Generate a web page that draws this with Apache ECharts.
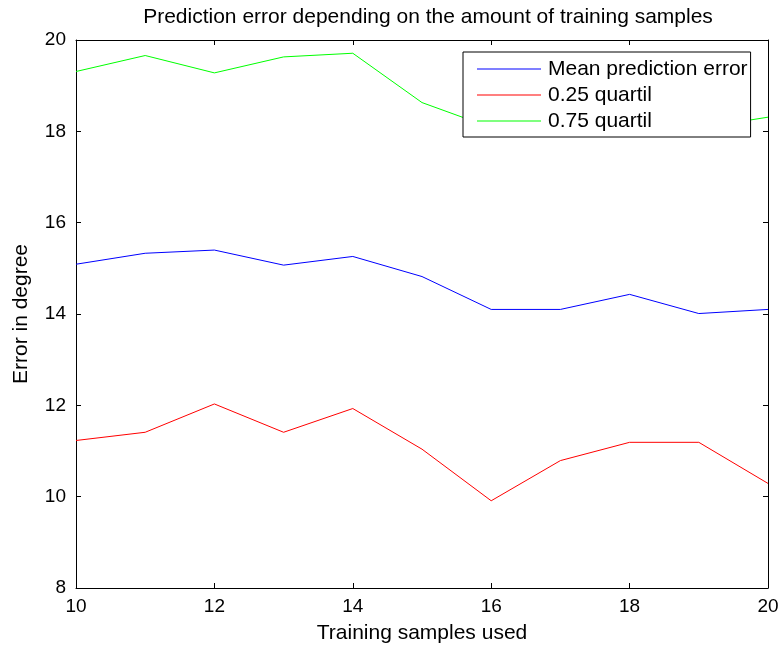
<!DOCTYPE html>
<html>
<head>
<meta charset="utf-8">
<script src="https://cdn.jsdelivr.net/npm/echarts@6/dist/echarts.min.js"></script>
<style>
  html, body { margin: 0; padding: 0; background: #fff; }
  #chart { width: 781px; height: 645px; }
</style>
</head>
<body>
<div id="chart"></div>
<script>
// Number of training samples used
const samples = [10, 11, 12, 13, 14, 15, 16, 17, 18, 19, 20];
// Prediction error statistics (degrees)
const meanError = [15.09, 15.33, 15.40, 15.07, 15.26, 14.82, 14.10, 14.10, 14.43, 14.01, 14.10];
const quartile25 = [11.23, 11.41, 12.03, 11.41, 11.93, 11.04, 9.91, 10.79, 11.19, 11.19, 10.29];
const quartile75 = [19.31, 19.66, 19.28, 19.63, 19.71, 18.63, 18.08, 18.15, 18.25, 18.07, 18.31];
const seriesNames = ['Mean prediction error', '0.25 quartil', '0.75 quartil'];
const seriesColors = ['#0000ff', '#ff0000', '#00ff00'];

const FONT = 'Liberation Sans, Arial, sans-serif';
const pairs = v => samples.map((s, i) => [s, v[i]]);

const chart = echarts.init(document.getElementById('chart'), null, { renderer: 'canvas' });

// Closed box: every side carries inward ticks
const boxAxis = {
  axisLine: { show: true, lineStyle: { color: '#000', width: 1 } },
  axisTick: { show: true, inside: true, length: 5, lineStyle: { color: '#000', width: 1 } },
  splitLine: { show: false }
};

chart.setOption({
  animation: false,
  backgroundColor: '#fff',
  title: {
    text: 'Prediction error depending on the amount of training samples',
    left: 423, top: 2, textAlign: 'center',
    textStyle: { fontFamily: FONT, fontSize: 21, fontWeight: 'normal', color: '#000' }
  },
  grid: { left: 76, right: 13, top: 40, bottom: 57, outerBoundsMode: 'none', containLabel: false },
  legend: {
    data: seriesNames,
    icon: 'rect',
    orient: 'vertical',
    left: 463, top: 52,
    padding: [4, 3, 3, 14],
    itemWidth: 64, itemHeight: 1, itemGap: 0,
    backgroundColor: '#fff',
    borderColor: '#000', borderWidth: 1,
    textStyle: { fontFamily: FONT, fontSize: 21, color: '#000', lineHeight: 26, padding: [0, 0, 0, 2] }
  },
  xAxis: [
    Object.assign({
      type: 'value', min: 10, max: 20, interval: 2,
      name: 'Training samples used', nameLocation: 'middle', nameGap: 35,
      nameTextStyle: { fontFamily: FONT, fontSize: 21, color: '#000' },
      axisLabel: { fontFamily: FONT, fontSize: 19, color: '#000', margin: 9 }
    }, boxAxis),
    Object.assign({
      type: 'value', min: 10, max: 20, interval: 2, position: 'top',
      axisLabel: { show: false }
    }, boxAxis)
  ],
  yAxis: [
    Object.assign({
      type: 'value', min: 8, max: 20, interval: 2,
      name: 'Error in degree', nameLocation: 'middle', nameGap: 44,
      nameTextStyle: { fontFamily: FONT, fontSize: 21, color: '#000' },
      axisLabel: { fontFamily: FONT, fontSize: 19, color: '#000', margin: 10 }
    }, boxAxis),
    Object.assign({
      type: 'value', min: 8, max: 20, interval: 2, position: 'right',
      axisLabel: { show: false }
    }, boxAxis)
  ],
  series: [meanError, quartile25, quartile75].map((v, i) => ({
    name: seriesNames[i],
    type: 'line',
    data: pairs(v),
    symbol: 'none',
    lineStyle: { color: seriesColors[i], width: 1 },
    itemStyle: { color: seriesColors[i] },
    z: 2
  }))
});
</script>
</body>
</html>
